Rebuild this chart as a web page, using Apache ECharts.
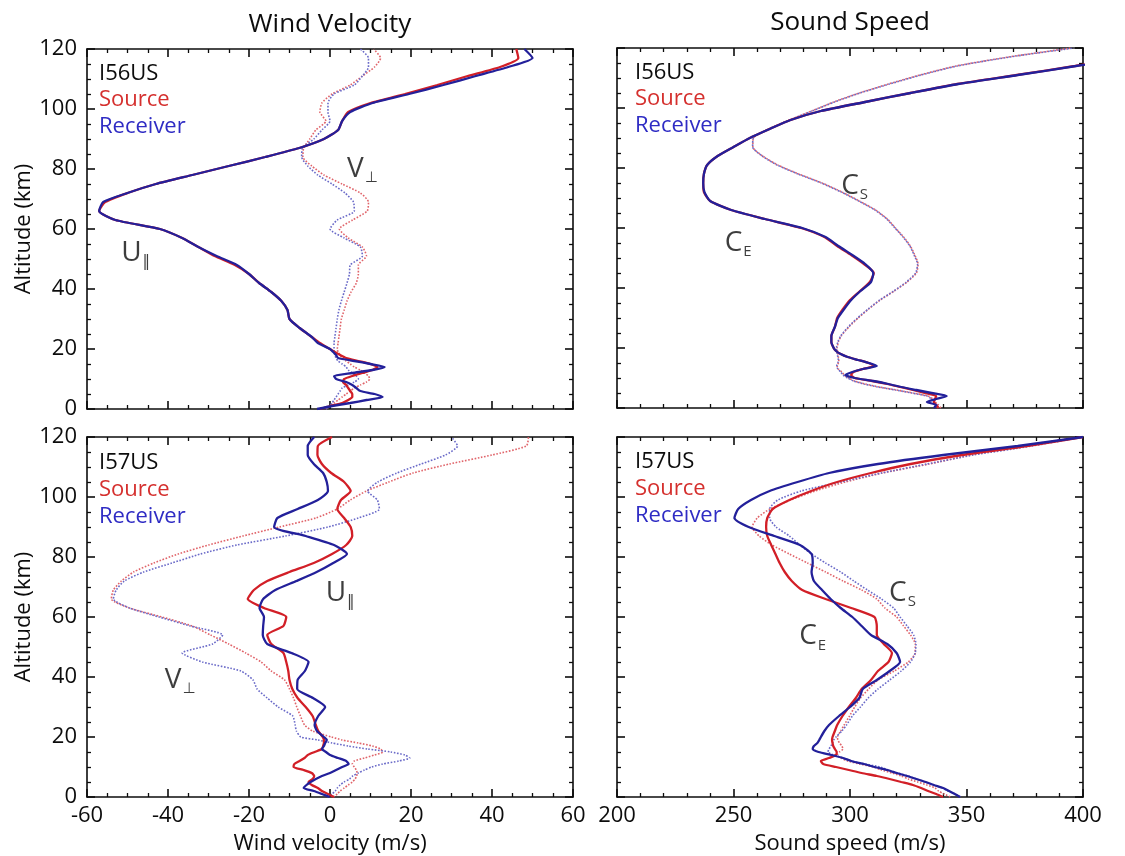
<!DOCTYPE html>
<html>
<head>
<meta charset="utf-8">
<script src="https://cdn.jsdelivr.net/npm/echarts@6.0.0/dist/echarts.min.js"></script>
<style>
  html, body { margin: 0; padding: 0; background: #fff; }
  #chart { width: 1125px; height: 856px; }
</style>
</head>
<body>
<div id="chart"></div>
<script>
// altitude samples (km), shared by every profile
const ALT = [0,1,2,3,4,5,6,7,8,9,10,11,12,13,14,15,16,17,18,19,20,22,24,27,30,33,36,39,42,45,48,51,54,57,60,63,66,69,72,75,78,81,84,87,90,93,96,99,102,105,108,111,114,117,120];

// I56US wind (m/s)
const i56USrc = [-2.5,0,3,4.5,5.5,5.5,5,4.5,4,3.2,3.5,5.5,8,10.5,11.7,10,7,4,2.5,1.2,0,-2.5,-4.5,-7.5,-10,-10.5,-12,-14.5,-17.5,-20,-23.5,-28.5,-32.5,-36.5,-42,-53,-57,-55.5,-50,-43,-34,-25,-16,-7.6,-1.5,2,3,4.5,10,18.5,26.5,34,42,46.5,46];
const i56URcv = [-3.2,0.5,5,9,13,11,7.5,6.5,5.5,4,1.5,1,5.5,10.5,13.5,10,6,2,1.5,0.8,0,-3,-4.5,-7.5,-10,-10.5,-12,-14.5,-17.5,-20,-23,-28,-32.5,-36.5,-42,-53,-57,-56,-50,-43,-34,-25,-16,-7.6,-1.5,2,3,5,10.5,19.5,28,36,44,50,48];
const i56VSrc = [-1,0,1,2,3,4,5,6,7.5,9,9.8,9.5,8.5,7.5,6,5,4,3,2.5,2,1.8,2,2.2,2.5,2.8,3.5,4.2,5.2,6.5,7,7,9,8,4.5,2.3,5.6,9.2,9.5,7.5,3,-1.5,-4.5,-6.7,-6.5,-5,-3.5,-1,-2.5,-2,0.5,5,8,11,12.5,10.8];
const i56VRcv = [-1,0,0.5,1,1.5,2,2.5,3,4.5,6,7,6.5,5.5,4.5,4,3,2,1.5,1.2,1,1,1,1.2,1.5,1.8,2.2,2.8,3.5,4.2,4.8,5,8,7.5,3.5,0,1.8,6,5.8,3.7,0.5,-3,-5.5,-7,-6.8,-4,-2,0,-0.5,-0.5,1,6,8,9.5,9.5,7.5];

// I56US sound speed (m/s)
const i56CeSrc = [338,337,336,336.5,337,332,327,321.5,316,309.5,302,300.5,301.5,305.5,310.5,308,303.5,299,296,294,293,292,292,293.5,294.5,297,300,304.3,308.5,310.2,306,300.5,294.5,289,279,263.5,249,240,237.3,237,237.3,238.7,243.2,250,257,265.5,274.5,287.5,306.5,326,346,371.5,396.5,420,440];
const i56CeRcv = [336,337,333,337,341.5,335,328.5,322,316.5,310,302,298,301,305.5,311.5,308,303.5,299,296,294,293,292,292,293.5,294.8,297.5,300.5,304.5,309,310,306.5,301,295,289.5,279.5,263.5,249,240,237.5,237,237.3,238.7,243.2,250,257,265.5,274.5,287.5,306.5,326,346.5,372,397,421,441];
const i56CsSrc = [339,338,336.5,335.5,333.5,327,320,312.5,306.5,302,299.5,297.5,296.5,295,294.5,295,295.2,295,294.8,294.6,294.5,295,296.2,299.5,303.5,308,313,319,324.5,328.5,329.2,327.8,325.9,323,319.5,316,311,304,296.5,288,278,269,262.5,258.3,258.5,265,274,283.5,293,304,316.5,330,345.5,368,395];
const i56CsRcv = [338,337.5,336,335,333,326.5,319.5,312,306,301.5,299,297,296,294.8,294.3,294.8,295,294.8,294.5,294.3,294.2,294.8,296,299.2,303.2,307.8,312.8,318.8,324.2,328.2,329,327.5,325.7,322.8,319.3,315.8,310.7,303.7,296.2,287.7,277.7,268.7,262.3,258.2,258.5,265,274,283.8,293.3,304.3,317,330.5,346,368.5,396];

// I57US wind (m/s)
const i57USrc = [1,-0.5,-2,-3,-4.5,-5.3,-4.3,-3.9,-4.5,-6.5,-9,-8.8,-7.5,-6.3,-5.5,-3.8,-2,-1.7,-1.5,-1.5,-1.8,-2.9,-3.5,-4.3,-6,-8,-9.3,-10,-10.3,-10.8,-11.5,-14.5,-15.5,-11.5,-10.8,-16.3,-20.3,-18.8,-15.5,-10,-4,0.5,4,5.5,5.1,3.5,1.8,2.7,5.1,3.5,0.3,-2,-3.1,-3,0.5];
const i57URcv = [-0.1,-2,-4,-6.5,-5.8,-4.8,-3.5,-2,0,1.5,3,4.6,4,2,0,-1,-2,-1.5,-1.2,-0.8,-1.5,-3.2,-3.8,-2.9,-1.2,-4.2,-8.1,-8,-6.2,-5.3,-9.5,-15.5,-16.6,-16.5,-16.3,-17.4,-16.5,-13.5,-8.3,-3.3,0.8,4.2,1,-6,-13.8,-13,-8,-3,-0.5,-0.8,-1.7,-4,-5.5,-5.5,-3.9];
const i57VSrc = [0.8,1.8,2.5,3.5,4.5,5.5,6.2,6.6,6.7,6.5,6,5.5,6,8.5,11,13,12.5,10.5,7,3,0.4,-4.3,-6.3,-7.3,-8.2,-9,-10,-11.2,-14.5,-17,-20.8,-25,-29.5,-34,-41.5,-49.5,-54,-53.5,-51.5,-48.5,-43.5,-37.5,-30,-21.5,-12.5,-3.5,1.8,5,9,14.5,20.5,29.5,40,48.5,49];
const i57VRcv = [-0.6,0.5,1.3,1.8,2.5,3.5,4.8,5.6,7,8.5,10.3,13,17,19.7,18.5,15,9.3,4.5,0.5,-3,-7.2,-8.3,-8.6,-9.2,-12.8,-15.5,-18,-19,-22,-31.5,-36.5,-29,-26.5,-34.5,-42.2,-49.5,-53.5,-52.8,-50.8,-46,-39,-32,-23,-11,-0.5,7,12.2,11.7,9.3,11.8,16.5,22.5,28.5,31.5,30];

// I57US sound speed (m/s)
const i57CeSrc = [340,337,333.5,330.5,327,322,317,311.5,305,299.5,294,288.5,287.5,291,294,294.3,293.5,292.8,292.5,292.3,292.5,293.5,294.5,296.8,299.5,302.5,305,309,312,316.5,318,314.5,311.5,311.5,310.5,300.5,289.5,279.5,275,272,269.8,268,266.2,264.5,264,264.5,266.8,274,283.3,294.5,309,326,348,376,400];
const i57CeRcv = [347.3,345,342.5,340,336,332.5,328.5,324.5,320,316,310.5,306,300.5,297,292,286.5,284,284.5,286,286.8,287.5,289,291,295.3,300,304,305.5,311.5,317,321.5,320,316,309,305,301,296,291.7,288,284.5,283.5,284,283.5,278.5,267.5,256.5,250.4,252,257.5,265.5,277.5,291,312,340,372,400];
const i57CsSrc = [343,340.5,338,336.5,333,329,325,322,318,313.5,310.2,304,299,296,294.5,295.5,297,296.5,295.5,294.8,294.6,296,297.5,299.8,302,304.5,308,312,319,325,328,328,326,323,320,315,311.5,305,297,289.5,281.7,274,266.5,261,258,260.2,265.6,274.5,285,298,314,334,352,373,400];
const i57CsRcv = [347.3,345,342,339.5,336,332,328.5,325,320.5,316.5,313,306.5,300.5,297,293,290.5,291,291.8,292.5,293,294,296.5,298.5,301,304.5,307.8,312,317,322,326,328,328.3,327.3,324.5,321.5,318.7,313.5,307.5,301.6,296,289.5,283.5,278.5,274,268.3,265.5,265.5,269,279,296,313.5,333,353,378,400];

const FONT = '"Open Sans", "DejaVu Sans", sans-serif';
const INK = '#0c0c0c';
const RED = '#d21f27', BLUE = '#23209a', RED_DOT = '#e0646a', BLUE_DOT = '#6a6ac8';

// grid order: 0 top-left, 1 top-right, 2 bottom-left, 3 bottom-right
const grids = [
  {left: 87, top: 49, width: 486, height: 360},
  {left: 617, top: 48, width: 466, height: 360},
  {left: 87, top: 437, width: 486, height: 360},
  {left: 617, top: 437, width: 466, height: 360}
];

const panels = [
  {g: 0, solid: [i56USrc, i56URcv], dotted: [i56VSrc, i56VRcv]},
  {g: 1, solid: [i56CeSrc, i56CeRcv], dotted: [i56CsSrc, i56CsRcv]},
  {g: 2, solid: [i57USrc, i57URcv], dotted: [i57VSrc, i57VRcv]},
  {g: 3, solid: [i57CeSrc, i57CeRcv], dotted: [i57CsSrc, i57CsRcv]}
];

// curve names: [grid, x, altitude, letter, subscript]
const notes = [
  [0, -48, 52, 'U', '\u2016'],
  [0, 8, 80, 'V', '\u22A5'],
  [1, 252, 55, 'C', 'E'],
  [1, 302, 74, 'C', 'S'],
  [2, 2.5, 68, 'U', '\u2016'],
  [2, -37, 39, 'V', '\u22A5'],
  [3, 284, 53.5, 'C', 'E'],
  [3, 322.5, 68, 'C', 'S']
];

const tickStyle = {color: INK, width: 1.6};

function xAxis(g, pos) {
  const wind = g % 2 === 0;
  const bottomRow = g >= 2 && pos === 'bottom';
  return {
    type: 'value', gridIndex: g, position: pos,
    min: wind ? -60 : 200, max: wind ? 60 : 400, interval: wind ? 20 : 50,
    axisLine: {show: true, onZero: false, lineStyle: tickStyle},
    axisTick: {show: true, inside: true, length: 8, lineStyle: tickStyle},
    minorTick: {show: true, splitNumber: wind ? 4 : 5, length: 4, lineStyle: {color: INK, width: 1.3}},
    splitLine: {show: false},
    axisLabel: {show: bottomRow, fontSize: 22, color: INK, fontFamily: FONT, margin: 8},
    name: bottomRow ? (wind ? 'Wind velocity (m/s)' : 'Sound speed (m/s)') : '',
    nameLocation: 'middle', nameGap: 36,
    nameTextStyle: {fontSize: 22, color: INK, fontFamily: FONT}
  };
}

function yAxis(g, pos) {
  const leftCol = g % 2 === 0 && pos === 'left';
  return {
    type: 'value', gridIndex: g, position: pos,
    min: 0, max: 120, interval: 20,
    axisLine: {show: true, onZero: false, lineStyle: tickStyle},
    axisTick: {show: true, inside: true, length: 8, lineStyle: tickStyle},
    minorTick: {show: true, splitNumber: 4, length: 4, lineStyle: {color: INK, width: 1.3}},
    splitLine: {show: false},
    axisLabel: {show: leftCol, fontSize: 22, color: INK, fontFamily: FONT, margin: 10},
    name: leftCol ? 'Altitude (km)' : '',
    nameLocation: 'middle', nameGap: 52, nameRotate: 90,
    nameTextStyle: {fontSize: 22, color: INK, fontFamily: FONT}
  };
}

function profile(g, vals, color, dotted, z) {
  return {
    type: 'line', xAxisIndex: g, yAxisIndex: g, z: z,
    data: ALT.map((a, i) => [vals[i], a]),
    symbol: 'none', silent: true, animation: false, smooth: 0.2,
    lineStyle: {color: color, width: dotted ? 1.6 : 2.3, type: dotted ? 'dotted' : 'solid'},
    itemStyle: {color: color}
  };
}

const series = [];
panels.forEach(p => {
  series.push(profile(p.g, p.dotted[0], RED_DOT, true, 2));
  series.push(profile(p.g, p.dotted[1], BLUE_DOT, true, 2));
  series.push(profile(p.g, p.solid[0], RED, false, 3));
  series.push(profile(p.g, p.solid[1], BLUE, false, 4));
});

[0, 1, 2, 3].forEach(g => {
  series.push({
    type: 'scatter', xAxisIndex: g, yAxisIndex: g, z: 5,
    symbolSize: 1, itemStyle: {color: 'rgba(0,0,0,0)'}, silent: true, animation: false,
    data: notes.filter(n => n[0] === g).map(n => ({value: [n[1], n[2]], main: n[3], sub: n[4]})),
    label: {
      show: true, position: 'inside',
      formatter: p => '{m|' + p.data.main + '}{s|' + p.data.sub + '}',
      rich: {
        m: {fontSize: 28, color: INK, fontFamily: FONT},
        s: {fontSize: 15, color: INK, fontFamily: FONT, padding: [18, 0, 0, 1]}
      }
    }
  });
});

const texts = [
  {t: 'Wind Velocity', x: 330, y: 25, size: 26, c: INK, align: 'center'},
  {t: 'Sound Speed', x: 850, y: 23, size: 26, c: INK, align: 'center'},
  {t: 'I56US', x: 99, y: 74, size: 22, c: INK},
  {t: 'Source', x: 99, y: 100, size: 22, c: '#d5302e'},
  {t: 'Receiver', x: 99, y: 127, size: 22, c: '#2f2cc4'},
  {t: 'I56US', x: 635, y: 73, size: 22, c: INK},
  {t: 'Source', x: 635, y: 99, size: 22, c: '#d5302e'},
  {t: 'Receiver', x: 635, y: 126, size: 22, c: '#2f2cc4'},
  {t: 'I57US', x: 99, y: 463, size: 22, c: INK},
  {t: 'Source', x: 99, y: 490, size: 22, c: '#d5302e'},
  {t: 'Receiver', x: 99, y: 517, size: 22, c: '#2f2cc4'},
  {t: 'I57US', x: 635, y: 462, size: 22, c: INK},
  {t: 'Source', x: 635, y: 489, size: 22, c: '#d5302e'},
  {t: 'Receiver', x: 635, y: 516, size: 22, c: '#2f2cc4'}
];

const chart = echarts.init(document.getElementById('chart'), null, {renderer: 'canvas'});
chart.setOption({
  backgroundColor: '#fff',
  animation: false,
  grid: grids.map(g => Object.assign({outerBoundsMode: 'none'}, g)),
  xAxis: [0, 1, 2, 3].map(g => xAxis(g, 'bottom')).concat([0, 1, 2, 3].map(g => xAxis(g, 'top'))),
  yAxis: [0, 1, 2, 3].map(g => yAxis(g, 'left')).concat([0, 1, 2, 3].map(g => yAxis(g, 'right'))),
  series: series,
  graphic: texts.map(d => ({
    type: 'text', x: d.x, y: d.y, silent: true,
    style: {
      text: d.t, fill: d.c, fontSize: d.size, fontFamily: FONT,
      align: d.align || 'left', textAlign: d.align || 'left',
      verticalAlign: 'middle', textVerticalAlign: 'middle'
    }
  }))
});
</script>
</body>
</html>
